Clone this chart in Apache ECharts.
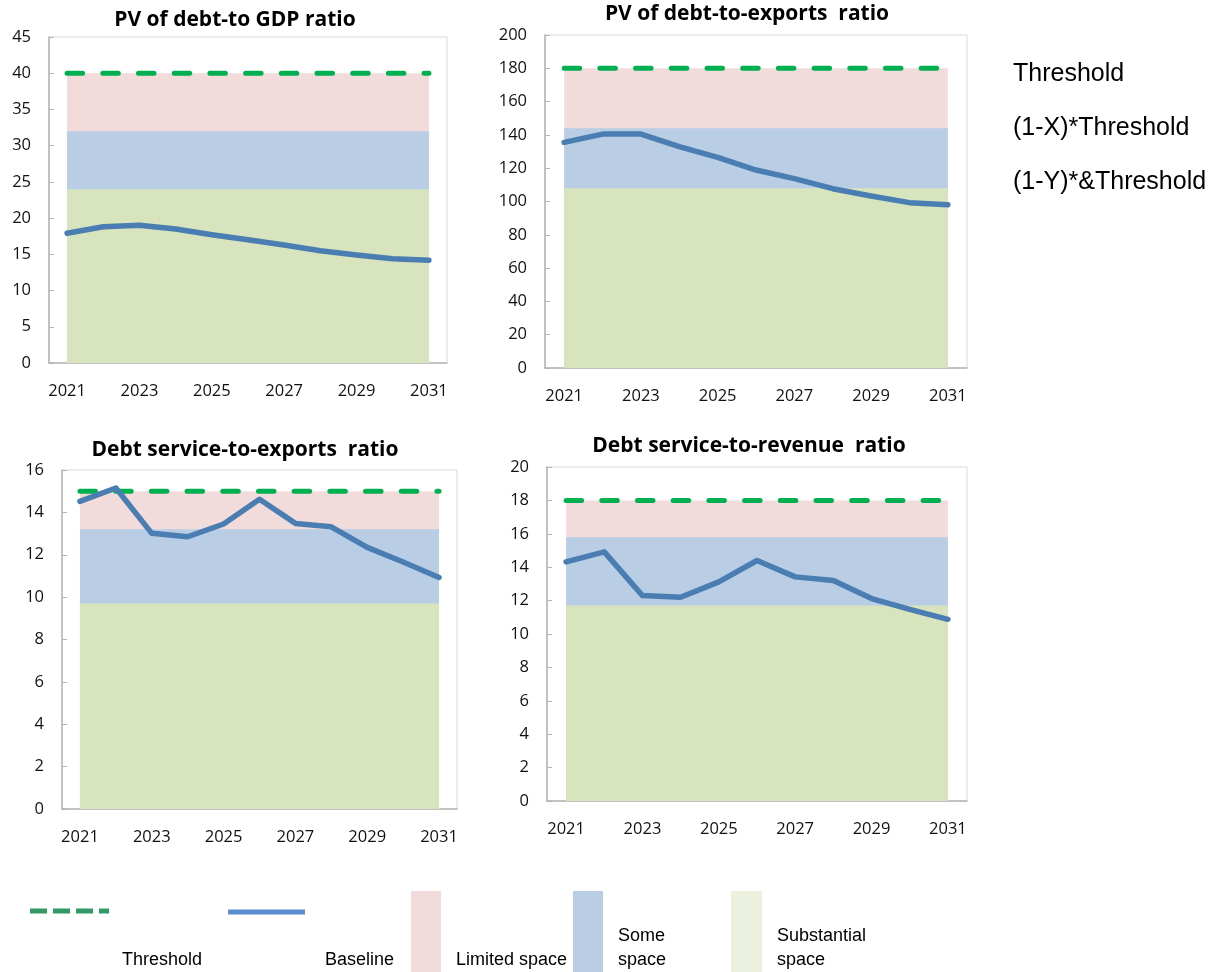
<!DOCTYPE html>
<html>
<head>
<meta charset="utf-8">
<title>Debt burden indicators</title>
<script src="https://cdn.jsdelivr.net/npm/echarts@6/dist/echarts.min.js"></script>
<style>
  html, body { margin: 0; padding: 0; background: #ffffff; }
  #chart { width: 1225px; height: 972px; }
</style>
</head>
<body>
<div id="chart"></div>
<script>
// Projection years
const years = ['2021', '2022', '2023', '2024', '2025', '2026', '2027', '2028', '2029', '2030', '2031'];

// PV of debt-to-GDP ratio
const gdpThreshold   = [40, 40, 40, 40, 40, 40, 40, 40, 40, 40, 40];
const gdpLimitedTop  = [40, 40, 40, 40, 40, 40, 40, 40, 40, 40, 40];
const gdpSomeTop     = [32, 32, 32, 32, 32, 32, 32, 32, 32, 32, 32];
const gdpSubstTop    = [24, 24, 24, 24, 24, 24, 24, 24, 24, 24, 24];
const gdpBaseline    = [17.9, 18.8, 19.0, 18.5, 17.7, 17.0, 16.3, 15.5, 14.9, 14.4, 14.2];

// PV of debt-to-exports ratio
const expThreshold   = [180, 180, 180, 180, 180, 180, 180, 180, 180, 180, 180];
const expLimitedTop  = [180, 180, 180, 180, 180, 180, 180, 180, 180, 180, 180];
const expSomeTop     = [144, 144, 144, 144, 144, 144, 144, 144, 144, 144, 144];
const expSubstTop    = [108, 108, 108, 108, 108, 108, 108, 108, 108, 108, 108];
const expBaseline    = [135.5, 140.5, 140.5, 132.9, 126.5, 118.9, 113.7, 107.7, 103.3, 99.3, 98.1];

// Debt service-to-exports ratio
const dsxThreshold   = [15, 15, 15, 15, 15, 15, 15, 15, 15, 15, 15];
const dsxLimitedTop  = [15, 15, 15, 15, 15, 15, 15, 15, 15, 15, 15];
const dsxSomeTop     = [13.2, 13.2, 13.2, 13.2, 13.2, 13.2, 13.2, 13.2, 13.2, 13.2, 13.2];
const dsxSubstTop    = [9.7, 9.7, 9.7, 9.7, 9.7, 9.7, 9.7, 9.7, 9.7, 9.7, 9.7];
const dsxBaseline    = [14.52, 15.15, 13.01, 12.85, 13.45, 14.62, 13.48, 13.32, 12.35, 11.66, 10.93];

// Debt service-to-revenue ratio
const dsrThreshold   = [18, 18, 18, 18, 18, 18, 18, 18, 18, 18, 18];
const dsrLimitedTop  = [18, 18, 18, 18, 18, 18, 18, 18, 18, 18, 18];
const dsrSomeTop     = [15.8, 15.8, 15.8, 15.8, 15.8, 15.8, 15.8, 15.8, 15.8, 15.8, 15.8];
const dsrSubstTop    = [11.7, 11.7, 11.7, 11.7, 11.7, 11.7, 11.7, 11.7, 11.7, 11.7, 11.7];
const dsrBaseline    = [14.32, 14.92, 12.30, 12.20, 13.12, 14.40, 13.42, 13.20, 12.12, 11.48, 10.88];

// Panel titles and y-axis ranges
const panelTitles = [
  'PV of debt-to GDP ratio',
  'PV of debt-to-exports  ratio',
  'Debt service-to-exports  ratio',
  'Debt service-to-revenue  ratio'
];
const yMax      = [45, 200, 16, 20];
const yInterval = [5, 20, 2, 2];

const panelData = [
  { threshold: gdpThreshold, limited: gdpLimitedTop, some: gdpSomeTop, subst: gdpSubstTop, baseline: gdpBaseline },
  { threshold: expThreshold, limited: expLimitedTop, some: expSomeTop, subst: expSubstTop, baseline: expBaseline },
  { threshold: dsxThreshold, limited: dsxLimitedTop, some: dsxSomeTop, subst: dsxSubstTop, baseline: dsxBaseline },
  { threshold: dsrThreshold, limited: dsrLimitedTop, some: dsrSomeTop, subst: dsrSubstTop, baseline: dsrBaseline }
];

// Plot boxes (px) and title anchors
const grids = [
  { left: 49,  top: 37,  width: 398, height: 326 },
  { left: 545, top: 35,  width: 422, height: 333 },
  { left: 62,  top: 470, width: 395, height: 339 },
  { left: 547, top: 467, width: 420, height: 334 }
];
const titlePos = [[235, 20], [747, 14], [245, 450], [749, 446]];

const COLORS = {
  limited: '#f2dcdb',
  some: '#b9cde5',
  subst: '#d7e4bd',
  threshold: '#00b050',
  baseline: '#4a7db1',
  axis: '#b4b4b4',
  border: '#d9d9d9',
  text: '#111111'
};
const AXIS_FONT = '"Open Sans", "Noto Sans", sans-serif';

const chart = echarts.init(document.getElementById('chart'), null, { renderer: 'canvas' });

const gridOpts = [], xAxes = [], yAxes = [], series = [], graphics = [];

grids.forEach((g, i) => {
  gridOpts.push(Object.assign({ show: true, borderColor: COLORS.border, borderWidth: 1, backgroundColor: 'transparent' }, g));
  xAxes.push({
    type: 'category', gridIndex: i, data: years, boundaryGap: true,
    axisLine: { lineStyle: { color: COLORS.axis, width: 1.5 } },
    axisTick: { inside: true, length: 6, interval: 0, lineStyle: { color: COLORS.axis } },
    axisLabel: { interval: 1, margin: 20, color: COLORS.text, fontSize: 16.5, fontFamily: AXIS_FONT },
    splitLine: { show: false }
  });
  yAxes.push({
    type: 'value', gridIndex: i, min: 0, max: yMax[i], interval: yInterval[i],
    axisLine: { show: true, lineStyle: { color: COLORS.axis, width: 1.5 } },
    axisTick: { show: true, inside: true, length: 5, lineStyle: { color: COLORS.axis } },
    axisLabel: { margin: 18, color: COLORS.text, fontSize: 16.5, fontFamily: AXIS_FONT },
    splitLine: { show: false }
  });

  const d = panelData[i];
  const area = (name, data, color) => ({
    name, type: 'line', xAxisIndex: i, yAxisIndex: i, data,
    symbol: 'none', silent: true,
    lineStyle: { width: 0, opacity: 0 },
    areaStyle: { color, opacity: 1 }
  });
  // Bands drawn from the top down so each lower band covers the one above it
  series.push(area('Limited space', d.limited, COLORS.limited));
  series.push(area('Some space', d.some, COLORS.some));
  series.push(area('Substantial space', d.subst, COLORS.subst));
  series.push({
    name: 'Threshold', type: 'line', xAxisIndex: i, yAxisIndex: i, data: d.threshold,
    symbol: 'none', silent: true,
    lineStyle: { color: COLORS.threshold, width: 5, type: [15.5, 20.2], cap: 'round' }
  });
  series.push({
    name: 'Baseline', type: 'line', xAxisIndex: i, yAxisIndex: i, data: d.baseline,
    symbol: 'none', silent: true,
    lineStyle: { color: COLORS.baseline, width: 5.5, cap: 'round', join: 'round' }
  });

  graphics.push({
    type: 'text', x: titlePos[i][0], y: titlePos[i][1],
    style: {
      text: panelTitles[i], fill: '#000000',
      font: 'bold 21px "Open Sans", "Noto Sans", sans-serif',
      textAlign: 'center', textVerticalAlign: 'middle'
    }
  });
});

// Right-hand notes
const notes = ['Threshold', '(1-X)*Threshold', '(1-Y)*&Threshold'];
const noteY = [74, 128, 182];
notes.forEach((t, k) => {
  graphics.push({
    type: 'text', x: 1013, y: noteY[k],
    style: { text: t, fill: '#000000', font: '25px "Liberation Sans", Arial, sans-serif', textAlign: 'left', textVerticalAlign: 'middle' }
  });
});

// Bottom legend
const LEG_FONT = '18px "Liberation Sans", Arial, sans-serif';
const legText = (text, x, y) => ({
  type: 'text', x, y,
  style: { text, fill: '#000000', font: LEG_FONT, textAlign: 'left', textVerticalAlign: 'middle' }
});
graphics.push(
  { type: 'line', shape: { x1: 30, y1: 911, x2: 109, y2: 911 }, style: { stroke: '#339966', lineWidth: 5, lineDash: [17, 6] } },
  legText('Threshold', 122, 960),
  { type: 'line', shape: { x1: 228, y1: 912, x2: 305, y2: 912 }, style: { stroke: '#588dd3', lineWidth: 5 } },
  legText('Baseline', 325, 960),
  { type: 'rect', shape: { x: 411, y: 891, width: 30, height: 81 }, style: { fill: COLORS.limited } },
  legText('Limited space', 456, 960),
  { type: 'rect', shape: { x: 573, y: 891, width: 30, height: 81 }, style: { fill: COLORS.some } },
  legText('Some', 618, 936),
  legText('space', 618, 960),
  { type: 'rect', shape: { x: 731, y: 891, width: 31, height: 81 }, style: { fill: '#ebf1de' } },
  legText('Substantial', 777, 936),
  legText('space', 777, 960)
);

chart.setOption({
  animation: false,
  backgroundColor: '#ffffff',
  grid: gridOpts,
  xAxis: xAxes,
  yAxis: yAxes,
  series,
  graphic: graphics
});
</script>
</body>
</html>
